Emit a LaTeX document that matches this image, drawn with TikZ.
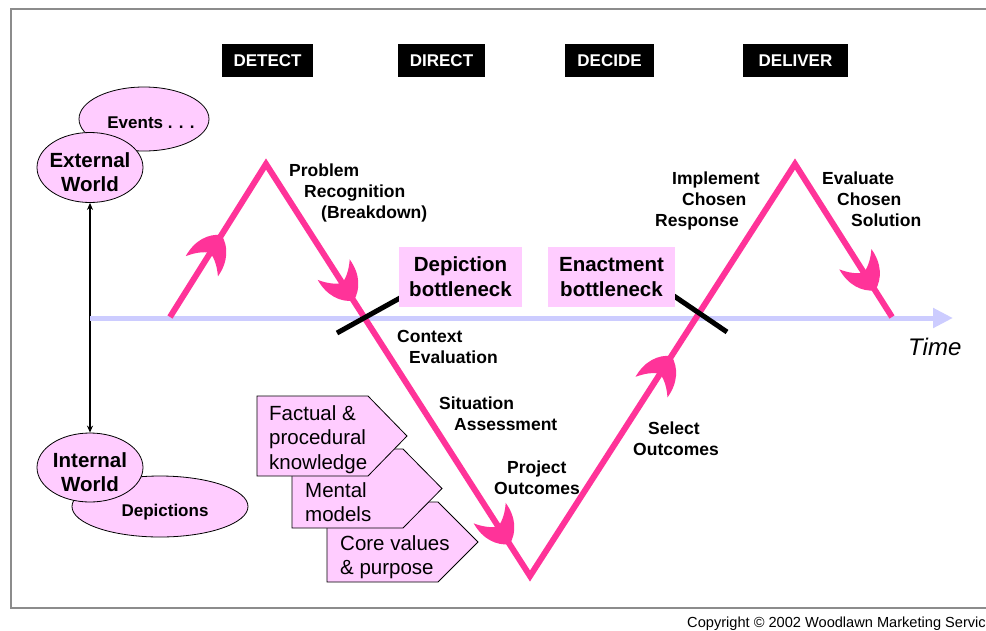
\documentclass[tikz,border=0pt]{standalone}
\usepackage{fontspec}
\setmainfont{Liberation Sans}
\usetikzlibrary{shapes.geometric,arrows.meta,decorations.markings}
\definecolor{hotpink}{HTML}{FF3399}
\definecolor{lilac}{HTML}{FFCCFF}
\definecolor{axisblue}{HTML}{CCCCFF}
\definecolor{framegray}{HTML}{8C8C8C}
\newcommand\barbfill{\fill[hotpink] (3,0) .. controls (-3,12) and (-16,20) .. (-34,19)
     .. controls (-26,13) and (-21,7) .. (-18,0)
     .. controls (-21,-7) and (-26,-13) .. (-34,-19)
     .. controls (-16,-20) and (-3,-12) .. (3,0) -- cycle;}
\tikzset{
  lbl/.style={font=\fontsize{17.5}{21}\selectfont\bfseries, align=left, inner sep=0pt, anchor=north west},
  phase/.style={fill=black, text=white, font=\fontsize{17}{20}\selectfont\bfseries, inner sep=0pt},
  neck/.style={fill=lilac, font=\fontsize{20.5}{25}\selectfont\bfseries, align=center, inner sep=0pt, minimum height=60pt},
  ell/.style={ellipse, draw=black, line width=0.8pt, fill=lilac, inner sep=0pt},
  elltext/.style={font=\fontsize{20.5}{24}\selectfont\bfseries, align=center, inner sep=0pt},
  elltextsmall/.style={font=\fontsize{17}{20}\selectfont\bfseries, inner sep=0pt},
  pent/.style={draw=black, line width=0.8pt, fill=lilac},
  penttext/.style={font=\fontsize{20.5}{24.5}\selectfont, align=left, inner sep=0pt, anchor=north west},
  pinkline/.style={hotpink, line width=6pt, line join=miter},
  barline/.style={black, line width=5pt},
  marks/.style={decorate, decoration={markings, mark=at position #1 with {\barbfill}}}
}
\begin{document}
\begin{tikzpicture}[x=1pt,y=-1pt]
\useasboundingbox (0,0) rectangle (986,630);
% frame
\draw[framegray, line width=2.5pt] (986,9) -- (11,9) -- (11,608) -- (986,608);
% phase headers
\node[phase, minimum width=91pt, minimum height=33pt] (detect) at (267.5,60.5) {DETECT};
\node[phase, minimum width=87pt, minimum height=33pt] (direct) at (441.5,60.5) {DIRECT};
\node[phase, minimum width=89pt, minimum height=33pt] (decide) at (609.5,60.5) {DECIDE};
\node[phase, minimum width=105pt, minimum height=33pt] (deliver) at (795.5,60.5) {DELIVER};
% ellipses
\node[ell, minimum width=130pt, minimum height=64pt] (events) at (144,119) {};
\node[elltextsmall, anchor=base] (eventst) at (151,128) {Events . . .};
\node[ell, minimum width=106pt, minimum height=70pt] (ext) at (90,167.5) {};
\node[elltext] (extt) at (90,171.8) {External\\World};
\node[ell, minimum width=176pt, minimum height=61pt] (dep) at (160,506.5) {};
\node[elltextsmall, anchor=base] (dept) at (165,516) {Depictions};
\node[ell, minimum width=106pt, minimum height=69pt] (int) at (90,467.5) {};
\node[elltext] (intt) at (90,471.8) {Internal\\World};
\draw[black, line width=1.2pt, {Stealth[length=7pt,width=6pt]}-{Stealth[length=7pt,width=6pt]}] (ext.south) -- (int.north);
% time axis
\coordinate (ax0) at (90,318);
\coordinate (ax1) at (953,318);
\draw[axisblue, line width=5pt, -{Triangle[length=20pt,width=19pt]}] (ax0) -- (ax1);
\node[font=\fontsize{24}{28}\selectfont\itshape, anchor=base west, inner sep=0pt] (time) at (908,355.6) {Time};
% pink zigzag
\coordinate (p0) at (170,317);
\coordinate (p1) at (266,164);
\coordinate (p2) at (530,576);
\coordinate (p3) at (795,164);
\coordinate (p4) at (892,317);
\draw[pinkline] (p0) -- (p1) -- (p2) -- (p3) -- (p4);
\path[marks=0.52] (p0) -- (p1);
\path[marks=0.326] (p1) -- (p2);
\path[marks=0.917] (p1) -- (p2);
\path[marks=0.528] (p2) -- (p3);
\path[marks=0.81] (p3) -- (p4);
% bottleneck bars
\coordinate (b1s) at (337,333);
\coordinate (b1e) at (400,298);
\coordinate (b2s) at (674,296);
\coordinate (b2e) at (727,332);
\draw[barline] (b1s) -- (b1e);
\draw[barline] (b2s) -- (b2e);
\node[neck, minimum width=123pt] (depb) at (460.5,277) {Depiction\\bottleneck};
\node[neck, minimum width=127pt] (enab) at (611.5,277) {Enactment\\bottleneck};
% stage labels
\node[lbl] (prob) at (289,163.5) {Problem\\\hspace*{15pt}Recognition\\\hspace*{32pt}(Breakdown)};
\node[lbl] (ctx) at (397,330.5) {Context\\\hspace*{12pt}Evaluation};
\node[lbl] (sit) at (439,396.5) {Situation\\\hspace*{15pt}Assessment};
\node[lbl] (proj) at (494,460.5) {\hspace*{13pt}Project\\Outcomes};
\node[lbl] (sel) at (633,421.5) {\hspace*{15pt}Select\\Outcomes};
\node[lbl] (impl) at (655,171.5) {\hspace*{17pt}Implement\\\hspace*{27pt}Chosen\\Response};
\node[lbl] (eval) at (822,171.5) {Evaluate\\\hspace*{15pt}Chosen\\\hspace*{29pt}Solution};
% knowledge pentagons (front one drawn last)
\path[pent] (327,502) -- (438,502) -- (478,542) -- (438,582) -- (327,582) -- cycle;
\node[penttext] (core) at (340,535.3) {Core values\\\& purpose};
\path[pent] (292,449) -- (403,449) -- (442,488.5) -- (403,528) -- (292,528) -- cycle;
\node[penttext] (ment) at (305,482.3) {Mental\\models};
\path[pent] (257,396) -- (368,396) -- (407,436) -- (368,476) -- (257,476) -- cycle;
\node[penttext] (fact) at (269,405.3) {Factual \&\\procedural\\knowledge};
% copyright
\node[font=\fontsize{14.6}{16}\selectfont, anchor=base east, inner sep=0pt] (copy) at (986,627) {Copyright © 2002 Woodlawn Marketing Servic};
\end{tikzpicture}
\end{document}
